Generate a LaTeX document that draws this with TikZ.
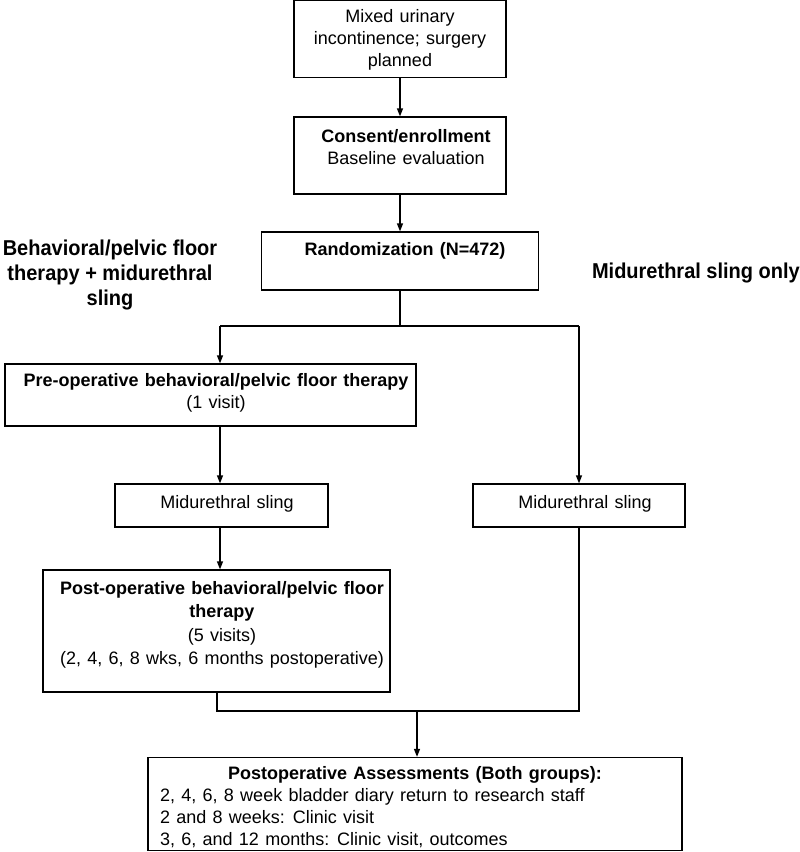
\documentclass[tikz,border=0pt]{standalone}
\usepackage{fontspec}
\setmainfont[WordSpace=1.25]{Liberation Sans}
\newfontfamily\labelfont[FakeStretch=0.93]{Liberation Sans}
\usetikzlibrary{arrows.meta}
\tikzset{
  box/.style={draw, line width=1.3pt, inner sep=0pt},
  txt/.style={font=\fontsize{18}{22}\selectfont, align=center, inner sep=0pt},
  side/.style={font=\labelfont\bfseries\fontsize{21.5}{25}\selectfont, align=center, inner sep=0pt},
  link/.style={line width=1.3pt},
  arr/.style={line width=1.3pt, -{Triangle[length=8pt,width=6pt]}}
}
\begin{document}
\begin{tikzpicture}[x=1pt,y=-1pt]
\useasboundingbox (0,0) rectangle (800,852);
\fill[white] (0,0) rectangle (800,852);
% boxes
\node[box, minimum width=212pt, minimum height=77pt] (b1) at (400,39) {};
\node[txt] (t1) at (400,40) {Mixed urinary\\incontinence; surgery\\planned};
\node[box, minimum width=212pt, minimum height=77pt] (b2) at (400,155.5) {};
\node[txt] (t2) at (406,147) {\textbf{Consent/enrollment}\\Baseline evaluation};
\node[box, minimum width=277pt, minimum height=58pt] (rand) at (400,261) {};
\node[txt] (t3) at (405,251) {\textbf{Randomization (N=472)}};
\node[side] (lab1) at (110,275) {Behavioral/pelvic floor\\therapy + midurethral\\sling};
\node[side, anchor=east] (lab2) at (800,273) {Midurethral sling only};
\node[box, minimum width=411pt, minimum height=62pt] (pre) at (210.5,395) {};
\node[txt] (t4) at (216,393) {\textbf{Pre-operative behavioral/pelvic floor therapy}\\(1 visit)};
\node[box, minimum width=213pt, minimum height=43pt] (sll) at (221.5,505.5) {};
\node[txt] (t5) at (227,504) {Midurethral sling};
\node[box, minimum width=212pt, minimum height=43pt] (slr) at (579,505.5) {};
\node[txt] (t6) at (585,504) {Midurethral sling};
\node[box, minimum width=347pt, minimum height=122pt] (post) at (216.5,631) {};
\node[txt, font=\fontsize{18}{23.5}\selectfont] (t7) at (222,625) {\textbf{Post-operative behavioral/pelvic floor}\\\textbf{therapy}\\(5 visits)\\(2, 4, 6, 8 wks, 6 months postoperative)};
\node[box, minimum width=534pt, minimum height=93pt] (fin) at (415,804) {};
\node[txt] (t8) at (415,775) {\textbf{Postoperative Assessments (Both groups):}};
\node[txt, align=left, anchor=west] (t9) at (160,818) {2, 4, 6, 8 week bladder diary return to research staff\\2 and 8 weeks: Clinic visit\\3, 6, and 12 months: Clinic visit, outcomes};
% connectors
\draw[arr] (b1) -- (b2);
\draw[arr] (b2) -- (rand);
\coordinate (bj) at (400,326);
\coordinate (jl) at (220,326);
\coordinate (jr) at (579,326);
\draw[link] (rand.south) -- (bj);
\draw[link] (jl) -- (jr);
\draw[arr] (jl) -- (jl |- pre.north);
\draw[arr] (jr) -- (jr |- slr.north);
\draw[arr] (jl |- pre.south) -- (jl |- sll.north);
\draw[arr] (jl |- sll.south) -- (jl |- post.north);
\coordinate (ml) at (217,711);
\coordinate (mr) at (579,711);
\coordinate (mm) at (417,711);
\draw[link] (ml |- post.south) -- (ml) -- (mr) -- (mr |- slr.south);
\draw[arr] (mm) -- (mm |- fin.north);
\end{tikzpicture}
\end{document}
